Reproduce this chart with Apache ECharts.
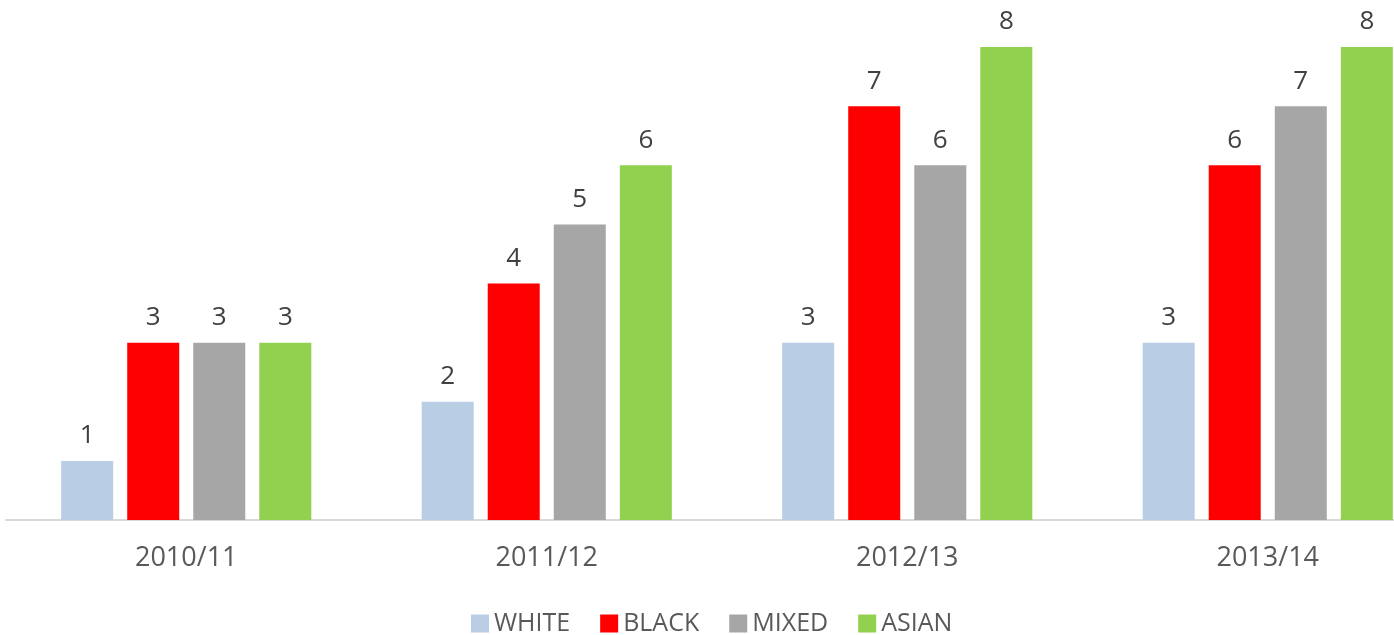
<!DOCTYPE html>
<html>
<head>
<meta charset="utf-8">
<title>Chart</title>
<script src="https://cdn.jsdelivr.net/npm/echarts@6/dist/echarts.min.js"></script>
<style>
    html, body { margin: 0; padding: 0; background: #fff; }
    #main { width: 1394px; height: 635px; }
</style>
</head>
<body>
<div id="main"></div>
<script>
// 数据
const years = ['2010/11', '2011/12', '2012/13', '2013/14']
const white = [1, 2, 3, 3]
const black = [3, 4, 7, 6]
const mixed = [3, 5, 6, 7]
const asian = [3, 6, 8, 8]

const colors = {
    WHITE: '#B9CDE5',
    BLACK: '#FF0000',
    MIXED: '#A6A6A6',
    ASIAN: '#92D050'
}

const fontFamily = '"Open Sans", "Liberation Sans", sans-serif'

const makeSeries = (name, data) => ({
    name: name,
    type: 'bar',
    data: data,
    barWidth: 52,
    barGap: '27%',
    itemStyle: { color: colors[name] },
    label: {
        show: true,
        position: 'top',
        distance: 12,
        color: '#404040',
        fontSize: 26,
        fontFamily: fontFamily
    }
})

var myChart = echarts.init(document.getElementById('main'))
myChart.setOption({
    animation: false,
    legend: {
        left: 471,
        top: 611,
        padding: 0,
        itemWidth: 18,
        itemHeight: 18,
        itemGap: 30,
        icon: 'rect',
        textStyle: { color: '#595959', fontSize: 25, fontFamily: fontFamily },
        data: ['WHITE', 'BLACK', 'MIXED', 'ASIAN']
    },
    grid: {
        left: 6,
        right: -54,
        top: 47,
        bottom: 115,
        containLabel: false,
        outerBoundsMode: 'none'
    },
    xAxis: {
        type: 'category',
        data: years,
        axisLine: { lineStyle: { color: '#D9D9D9', width: 2 } },
        axisTick: { show: false },
        axisLabel: {
            color: '#595959',
            fontSize: 27,
            fontFamily: fontFamily,
            margin: 25
        }
    },
    yAxis: {
        type: 'value',
        min: 0,
        max: 8,
        show: false,
        splitLine: { show: false }
    },
    series: [
        makeSeries('WHITE', white),
        makeSeries('BLACK', black),
        makeSeries('MIXED', mixed),
        makeSeries('ASIAN', asian)
    ]
})
</script>
</body>
</html>
